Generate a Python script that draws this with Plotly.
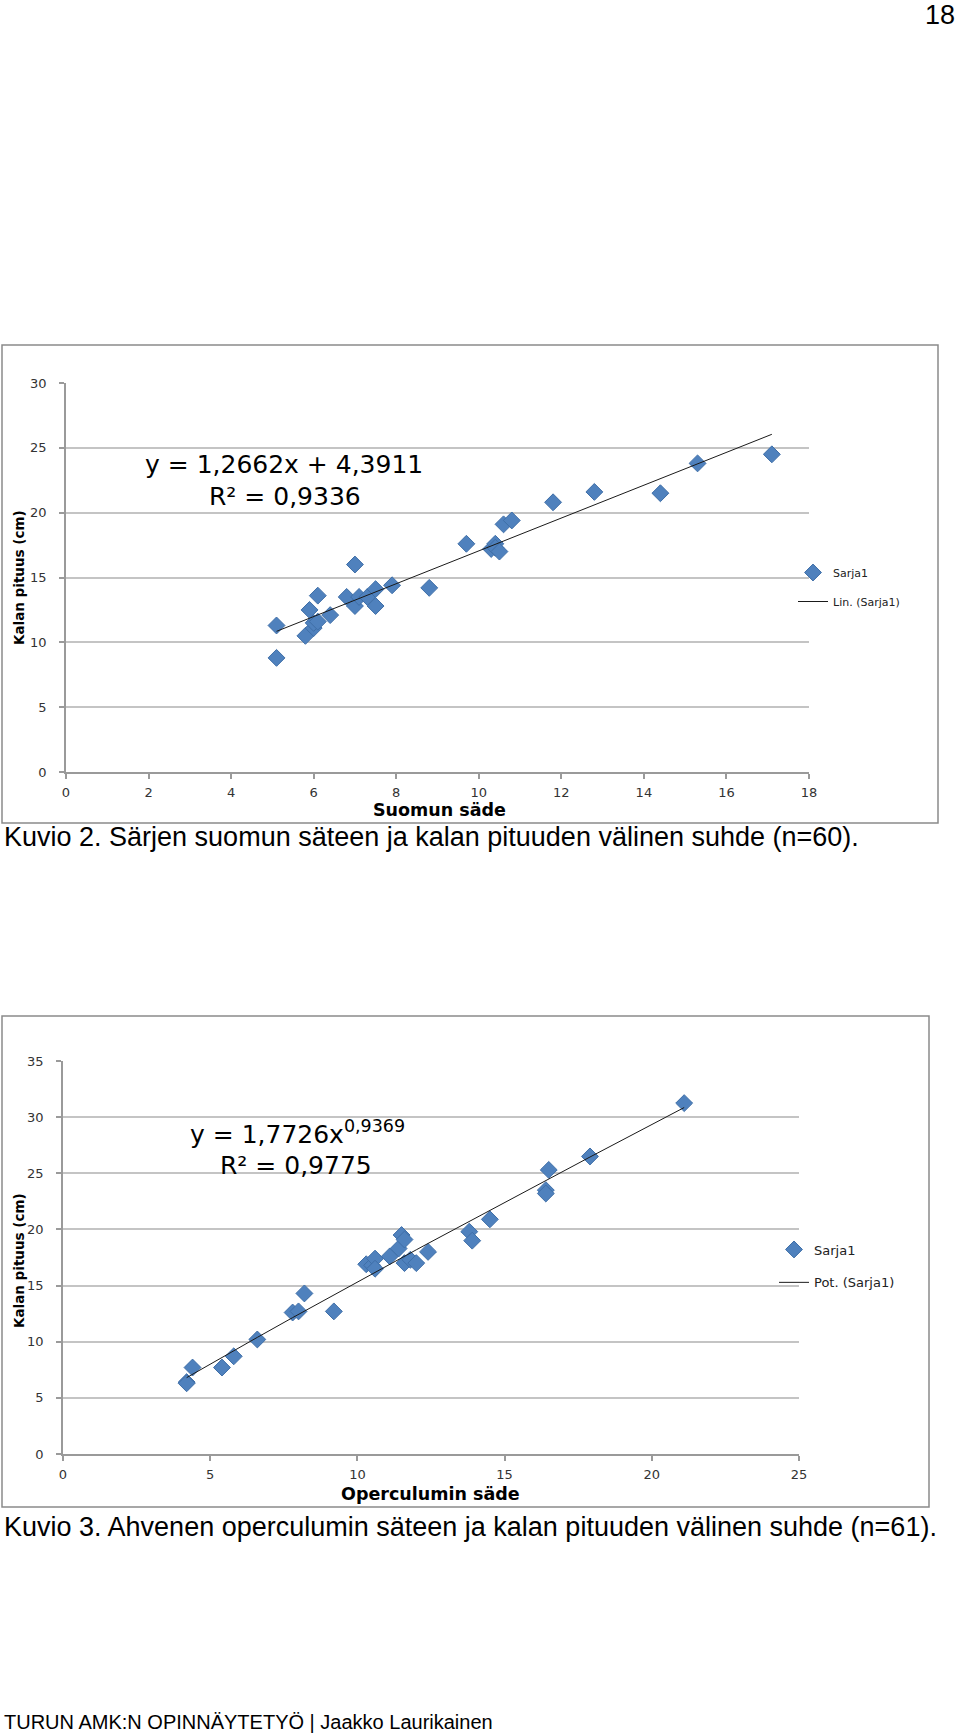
import plotly.graph_objects as go

# Kuvio 2: särki, suomun säde vs kalan pituus
suomu_sade = [5.1, 5.1, 5.8, 5.9, 6.0, 6.0, 6.1, 6.1, 6.4, 6.8, 7.0, 7.0, 7.1, 7.3, 7.5,
              7.5, 7.9, 8.8, 9.7, 10.3, 10.4, 10.4, 10.5, 10.6, 10.8, 11.8, 12.8, 14.4, 15.3, 17.1]
suomu_pituus = [11.3, 8.8, 10.5, 12.5, 11.1, 11.5, 11.6, 13.6, 12.1, 13.5, 16.0, 12.8, 13.5, 13.5, 14.1,
                12.8, 14.4, 14.2, 17.6, 17.2, 17.6, 17.3, 17.0, 19.1, 19.4, 20.8, 21.6, 21.5, 23.8, 24.5]
lin_slope, lin_intercept = 1.2662, 4.3911

# Kuvio 3: ahven, operculumin säde vs kalan pituus
oper_sade = [4.2, 4.2, 4.4, 5.4, 5.8, 6.6, 7.8, 8.0, 8.2, 9.2, 10.3, 10.5, 10.6, 10.6, 11.1,
             11.4, 11.5, 11.6, 11.6, 11.8, 12.0, 12.4, 13.8, 13.9, 14.5, 16.4, 16.4, 16.5, 17.9, 21.1]
oper_pituus = [6.4, 6.3, 7.7, 7.7, 8.7, 10.2, 12.6, 12.7, 14.3, 12.7, 16.9, 16.8, 17.4, 16.5, 17.6,
               18.3, 19.5, 19.1, 17.0, 17.3, 17.0, 18.0, 19.8, 19.0, 20.9, 23.5, 23.2, 25.3, 26.5, 31.25]
pot_coef, pot_exp = 1.7726, 0.9369

W, H = 960, 1734


def px(x):
    return x / W


def py(y):
    return 1 - y / H


BLUE = "#4f81bd"
CHART_FONT = "DejaVu Sans"
PAGE_FONT = "Liberation Sans, Arial, sans-serif"

# trend lines from the coefficients shown in the charts
lin_x = [min(suomu_sade), max(suomu_sade)]
lin_y = [lin_slope * v + lin_intercept for v in lin_x]
pot_x = sorted(set(oper_sade))
pot_y = [pot_coef * v ** pot_exp for v in pot_x]

fig = go.Figure()
fig.add_trace(go.Scatter(x=suomu_sade, y=suomu_pituus, mode="markers", name="Sarja1",
                         marker=dict(symbol="diamond", size=13, color=BLUE,
                                     line=dict(color="#3f6fa8", width=1)),
                         xaxis="x", yaxis="y", legend="legend", legendgroup="a"))
fig.add_trace(go.Scatter(x=lin_x, y=lin_y, mode="lines", name="Lin. (Sarja1)",
                         line=dict(color="#1a1a1a", width=1),
                         xaxis="x", yaxis="y", legend="legend", legendgroup="b"))
fig.add_trace(go.Scatter(x=oper_sade, y=oper_pituus, mode="markers", name="Sarja1",
                         marker=dict(symbol="diamond", size=13, color=BLUE,
                                     line=dict(color="#3f6fa8", width=1)),
                         xaxis="x2", yaxis="y2", legend="legend2", legendgroup="c"))
fig.add_trace(go.Scatter(x=pot_x, y=pot_y, mode="lines", name="Pot. (Sarja1)",
                         line=dict(color="#1a1a1a", width=1),
                         xaxis="x2", yaxis="y2", legend="legend2", legendgroup="d"))

axis_common = dict(showline=True, linecolor="#9a9a9a", linewidth=1.5,
                   ticks="outside", ticklen=5, tickcolor="#9a9a9a", tickwidth=1.5,
                   tickfont=dict(family=CHART_FONT, size=13, color="#333333"),
                   zeroline=False, fixedrange=True, automargin=False)

fig.update_layout(
    width=W, height=H,
    margin=dict(l=0, r=0, t=0, b=0, autoexpand=False),
    paper_bgcolor="white", plot_bgcolor="white",
    xaxis=dict(domain=[px(66), px(809)], range=[0, 18], dtick=2, anchor="y",
               showgrid=False, ticklabelstandoff=3, **axis_common),
    yaxis=dict(domain=[py(772), py(383)], range=[0, 30], dtick=5, anchor="x",
               showgrid=True, gridcolor="#c4c4c4", gridwidth=1.5,
               ticklabelstandoff=10, **axis_common),
    xaxis2=dict(domain=[px(63), px(799)], range=[0, 25], dtick=5, anchor="y2",
                showgrid=False, ticklabelstandoff=3, **axis_common),
    yaxis2=dict(domain=[py(1454), py(1061)], range=[0, 35], dtick=5, anchor="x2",
                showgrid=True, gridcolor="#c4c4c4", gridwidth=1.5,
                ticklabelstandoff=10, **axis_common),
    legend=dict(x=px(793), y=py(587), xanchor="left", yanchor="middle",
                font=dict(family=CHART_FONT, size=11, color="#222222"),
                traceorder="grouped", tracegroupgap=10,
                bgcolor="rgba(0,0,0,0)"),
    legend2=dict(x=px(774), y=py(1266), xanchor="left", yanchor="middle",
                 font=dict(family=CHART_FONT, size=13, color="#222222"),
                 traceorder="grouped", tracegroupgap=13,
                 bgcolor="rgba(0,0,0,0)"),
)

# chart borders
for x0, y0, x1, y1 in [(2, 345, 938, 823), (2, 1016, 929, 1507)]:
    fig.add_shape(type="rect", xref="paper", yref="paper",
                  x0=px(x0), x1=px(x1), y0=py(y1), y1=py(y0),
                  line=dict(color="#8a8a8a", width=1.5), layer="below")


def note(text, x, y, size, family=CHART_FONT, xanchor="center", bold=False, angle=0):
    fig.add_annotation(text=f"<b>{text}</b>" if bold else text,
                       x=px(x), y=py(y), xref="paper", yref="paper",
                       xanchor=xanchor, yanchor="middle", showarrow=False, textangle=angle,
                       font=dict(family=family, size=size, color="black"))


# equations
note("y = 1,2662x + 4,3911", 284, 464, 25)
note("R² = 0,9336", 285, 496, 25)
note("y = 1,7726x<sup>0,9369</sup>", 297, 1132, 25)
note("R² = 0,9775", 296, 1165, 25)

# axis titles
note("Suomun säde", 439, 810, 17.5, bold=True)
note("Kalan pituus (cm)", 19, 578, 13.5, bold=True, angle=-90)
note("Operculumin säde", 430, 1494, 17.5, bold=True)
note("Kalan pituus (cm)", 19, 1261, 13.5, bold=True, angle=-90)

# page text
note("18", 957, 15, 27, family=PAGE_FONT, xanchor="right")
note("Kuvio 2. Särjen suomun säteen ja kalan pituuden välinen suhde (n=60).",
     2, 837, 27, family=PAGE_FONT, xanchor="left")
note("Kuvio 3. Ahvenen operculumin säteen ja kalan pituuden välinen suhde (n=61).",
     2, 1527, 27, family=PAGE_FONT, xanchor="left")
note("TURUN AMK:N OPINNÄYTETYÖ | Jaakko Laurikainen",
     2, 1722, 20, family=PAGE_FONT, xanchor="left")

fig.write_html("out.html", config={"displayModeBar": False},
               post_script="document.body.style.margin='0';")
